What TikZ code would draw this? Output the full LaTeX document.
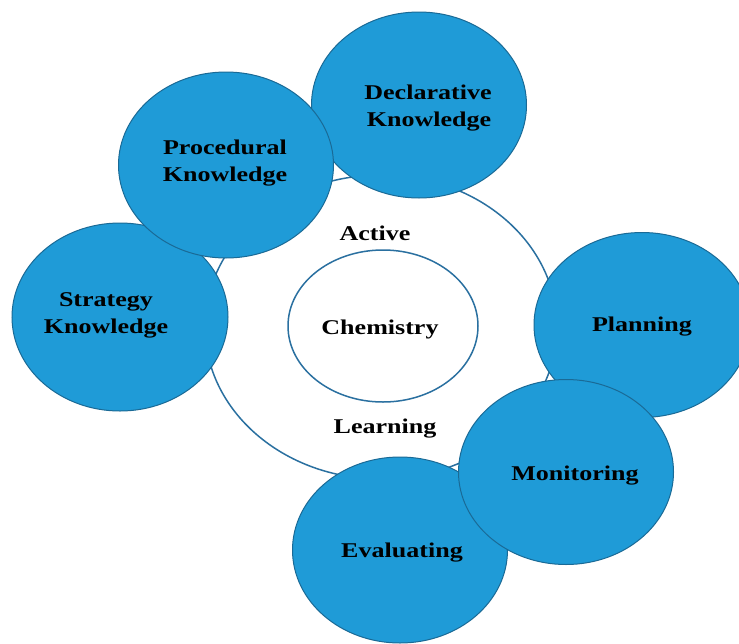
\documentclass[tikz,border=0pt]{standalone}
\usepackage{fontspec}
\setmainfont{Liberation Serif}[FakeStretch=1.24]
\usetikzlibrary{shapes.geometric}
\definecolor{bubbleblue}{HTML}{1F9BD7}
\definecolor{rim}{HTML}{1A6A96}
\definecolor{ring}{HTML}{2A70A0}
\begin{document}
\begin{tikzpicture}[x=1pt,y=-1pt,
  bubble/.style={ellipse, draw=rim, line width=1pt, fill=bubbleblue, inner sep=0pt},
  hoop/.style={ellipse, draw=ring, line width=1.5pt, inner sep=0pt},
  lbl/.style={font=\fontsize{21}{27}\selectfont\bfseries, anchor=base, inner sep=0pt, text=black}]
\useasboundingbox (0,0) rectangle (739,643);
\fill[white] (0,0) rectangle (739,643);
% rings
\node[hoop, minimum width=352pt, minimum height=304pt] (ring) at (381,327) {};
\node[hoop, minimum width=190pt, minimum height=152pt] (core) at (383,326) {};
% bubbles
\node[bubble, minimum width=215pt, minimum height=186pt] (decl) at (419,105) {};
\node[bubble, minimum width=216pt, minimum height=188pt] (strat) at (120,317) {};
\node[bubble, minimum width=215pt, minimum height=186pt] (proc) at (226,165) {};
\node[bubble, minimum width=216pt, minimum height=185pt] (plan) at (642,325) {};
\node[bubble, minimum width=215pt, minimum height=186pt] (eval) at (400,550) {};
\node[bubble, minimum width=215pt, minimum height=185pt] (mon) at (566,472) {};
% labels
\node[lbl] (declA) at (428,99) {Declarative};
\node[lbl] (declB) at (429,126) {Knowledge};
\node[lbl] (procA) at (225,154) {Procedural};
\node[lbl] (procB) at (225,181) {Knowledge};
\node[lbl] (stratA) at (106,306) {Strategy};
\node[lbl] (stratB) at (106,333) {Knowledge};
\node[lbl] (planA) at (642,331) {Planning};
\node[lbl] (monA) at (575,480) {Monitoring};
\node[lbl] (evalA) at (402,557) {Evaluating};
\node[lbl] (chemA) at (380,334) {Chemistry};
\node[lbl] (actA) at (375,240) {Active};
\node[lbl] (learnA) at (385,433) {Learning};
\end{tikzpicture}
\end{document}
